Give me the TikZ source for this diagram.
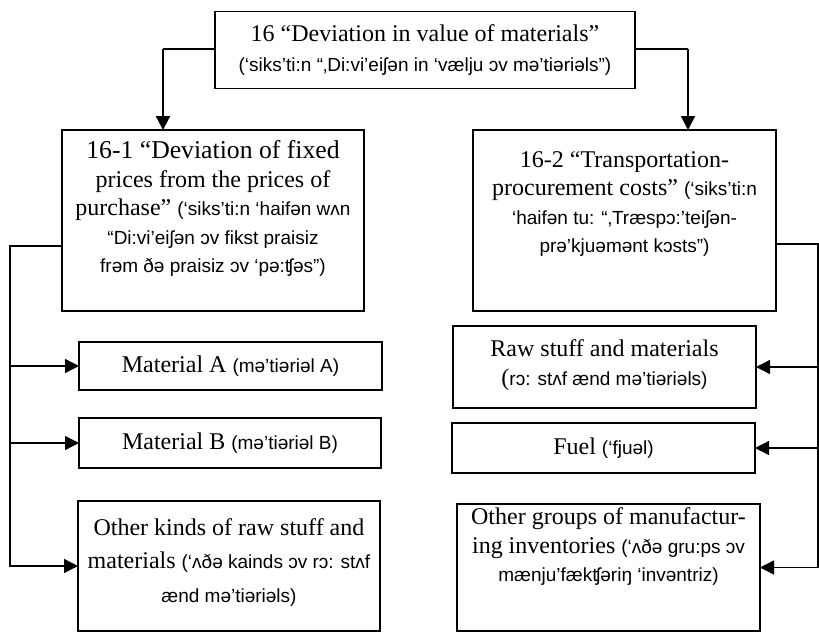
\documentclass[tikz,border=0pt]{standalone}
\usepackage{fontspec}
\setmainfont{Liberation Serif}
\newfontfamily\ipafont{Liberation Sans}
\usetikzlibrary{arrows.meta}
\newcommand\ipt[1]{{\ipafont\fontsize{19}{28.5}\selectfont #1}}
\begin{document}
\begin{tikzpicture}[x=1pt,y=-1pt,
  box/.style={draw, line width=1.4pt, inner sep=0pt, outer sep=0pt},
  txt/.style={inner sep=0pt, align=center, font=\fontsize{24}{28.5}\selectfont},
  conn/.style={line width=1.4pt},
  tip/.style={-{Triangle[length=14pt,width=14pt]}},
  arr/.style={conn, tip},
  drop/.style={line width=2.2pt, tip}]
\useasboundingbox (0,0) rectangle (819,632);
% boxes
\node[box, minimum width=420pt, minimum height=77pt] (top) at (425,50) {};
\node[box, minimum width=302pt, minimum height=181pt] (b1) at (213,220.5) {};
\node[box, minimum width=303pt, minimum height=181pt] (b2) at (624.5,220.5) {};
\node[box, minimum width=303pt, minimum height=48pt] (ma) at (230.5,366) {};
\node[box, minimum width=302pt, minimum height=50pt] (mb) at (230,443) {};
\node[box, minimum width=302pt, minimum height=130pt] (o1) at (229,566) {};
\node[box, minimum width=303pt, minimum height=82pt] (rs) at (604.5,367) {};
\node[box, minimum width=303pt, minimum height=50pt] (fu) at (603.5,448) {};
\node[box, minimum width=303pt, minimum height=127pt] (o2) at (608.5,567.5) {};
% texts
\node[txt] (ttop) at (425,50) {16 “Deviation in value of materials”\\[2pt]\ipt{(‘siks’ti:n “‚Di:vi’eiʃən in ‘vælju ɔv mə’tiəriəls”)}};
\node[txt] (tb1) at (213,208.5) {{\fontsize{25.7}{28.5}\selectfont 16-1 “Deviation of fixed}\\prices from the prices of\\purchase” \ipt{(‘siks’ti:n ‘haifən wʌn}\\\ipt{“Di:vi’eiʃən ɔv fikst praisiz}\\\ipt{frəm ðə praisiz ɔv ‘pə:ʧəs”)}};
\node[txt] (tb2) at (624.5,204) {16-2 “Transportation-\\procurement costs” \ipt{(‘siks’ti:n}\\\ipt{‘haifən tu: “‚Træspɔ:’teiʃən-}\\\ipt{prə’kjuəmənt kɔsts”)}};
\node[txt] (tma) at (230.5,366) {Material A \ipt{(mə’tiəriəl A)}};
\node[txt] (tmb) at (230,443) {Material B \ipt{(mə’tiəriəl B)}};
\node[txt, font=\fontsize{24}{33.5}\selectfont] (to1) at (229,562.5) {Other kinds of raw stuff and\\materials \ipt{(‘ʌðə kainds ɔv rɔ: stʌf}\\\ipt{ænd mə’tiəriəls)}};
\node[txt] (trs) at (604.5,365) {Raw stuff and materials\\(\ipt{rɔ: stʌf ænd mə’tiəriəls)}};
\node[txt] (tfu) at (603.5,448) {Fuel \ipt{(‘fjuəl)}};
\node[txt] (to2) at (608.5,547) {Other groups of manufactur-\\ing inventories \ipt{(‘ʌðə gru:ps ɔv}\\\ipt{mænju’fækʧəriŋ ‘invəntriz)}};
% connectors
\coordinate (tl) at (163,49);
\coordinate (tr) at (688,49);
\coordinate (lb) at (10,246);
\coordinate (rb) at (818,244);
\draw[conn] (top.west |- tl) -- (tl);
\draw[drop] (tl) -- (tl |- b1.north);
\draw[conn] (top.east |- tr) -- (tr);
\draw[drop] (tr) -- (tr |- b2.north);
\draw[arr] (lb -| b1.west) -- (lb) -- (lb |- o1.west) -- (o1.west);
\draw[arr] (lb |- ma.west) -- (ma.west);
\draw[arr] (lb |- mb.west) -- (mb.west);
\draw[arr] (rb -| b2.east) -- (rb) -- (rb |- o2.east) -- (o2.east);
\draw[arr] (rb |- rs.east) -- (rs.east);
\draw[arr] (rb |- fu.east) -- (fu.east);
\end{tikzpicture}
\end{document}
